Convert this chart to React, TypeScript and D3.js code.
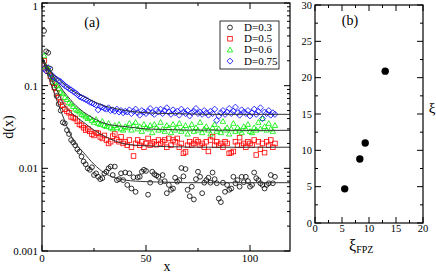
import React from 'react';
import * as d3 from 'd3';

// panel (a): d(x) for four D values, x = 1..112
const dBlack = [
  0.46, 0.26, 0.25, 0.16, 0.12, 0.095, 0.075, 0.06, 0.05, 0.036,
  0.035, 0.029, 0.026, 0.022, 0.0206, 0.019, 0.017, 0.0159, 0.0139, 0.0121,
  0.0112, 0.0100, 0.0096, 0.0103, 0.0083, 0.0087, 0.0079, 0.0074, 0.0076, 0.0087,
  0.0091, 0.0100, 0.0105, 0.0083, 0.0105, 0.0072, 0.0074, 0.0087, 0.0072, 0.0089,
  0.0063, 0.0087, 0.0057, 0.0078, 0.0052, 0.0078, 0.0079, 0.0091, 0.0096, 0.0093,
  0.0048, 0.0067, 0.0091, 0.0085, 0.0082, 0.0079, 0.0068, 0.0083, 0.0070, 0.0050,
  0.0063, 0.0055, 0.0057, 0.0077, 0.0069, 0.0072, 0.0101, 0.0080, 0.0098, 0.0055,
  0.0046, 0.0060, 0.0042, 0.0074, 0.0091, 0.0079, 0.0050, 0.0067, 0.0072, 0.0077,
  0.0067, 0.0089, 0.0074, 0.0066, 0.0043, 0.0039, 0.0067, 0.0052, 0.0063, 0.0055,
  0.0057, 0.0079, 0.0066, 0.0072, 0.0060, 0.0079, 0.0068, 0.0079, 0.0070, 0.0060,
  0.0063, 0.0089, 0.0076, 0.0072, 0.0066, 0.0063, 0.0057, 0.0063, 0.0066, 0.0083,
  0.0066, 0.0079,
];
const dRed = [
  0.20, 0.165, 0.15, 0.13, 0.11, 0.095, 0.082, 0.072, 0.063, 0.058,
  0.052, 0.049, 0.047, 0.042, 0.041, 0.040, 0.037, 0.034, 0.033, 0.031,
  0.029, 0.030, 0.028, 0.026, 0.025, 0.027, 0.0265, 0.024, 0.023, 0.025,
  0.022, 0.020, 0.021, 0.0245, 0.026, 0.022, 0.021, 0.024, 0.020, 0.021,
  0.019, 0.022, 0.018, 0.0141, 0.020, 0.022, 0.019, 0.021, 0.018, 0.020,
  0.023, 0.019, 0.020, 0.021, 0.0193, 0.022, 0.020, 0.021, 0.022, 0.018,
  0.023, 0.019, 0.022, 0.021, 0.023, 0.018, 0.020, 0.0152, 0.0158, 0.019,
  0.021, 0.019, 0.020, 0.022, 0.021, 0.019, 0.020, 0.018, 0.021, 0.016,
  0.022, 0.0242, 0.019, 0.021, 0.019, 0.020, 0.018, 0.021, 0.020, 0.0152,
  0.0155, 0.016, 0.021, 0.019, 0.0235, 0.019, 0.020, 0.018, 0.021, 0.020,
  0.019, 0.022, 0.0145, 0.021, 0.017, 0.020, 0.0155, 0.021, 0.019, 0.022,
  0.018, 0.020,
];
const dGreen = [
  0.23, 0.17, 0.16, 0.14, 0.125, 0.11, 0.10, 0.092, 0.083, 0.080,
  0.072, 0.068, 0.062, 0.060, 0.056, 0.052, 0.050, 0.048, 0.045, 0.044,
  0.042, 0.040, 0.041, 0.038, 0.036, 0.039, 0.035, 0.034, 0.037, 0.033,
  0.032, 0.035, 0.031, 0.030, 0.033, 0.031, 0.034, 0.030, 0.029, 0.032,
  0.031, 0.035, 0.029, 0.033, 0.036, 0.030, 0.032, 0.028, 0.034, 0.031,
  0.030, 0.033, 0.027, 0.034, 0.031, 0.029, 0.036, 0.030, 0.028, 0.033,
  0.031, 0.027, 0.034, 0.029, 0.031, 0.035, 0.028, 0.030, 0.033, 0.026,
  0.030, 0.034, 0.028, 0.031, 0.029, 0.036, 0.027, 0.030, 0.032, 0.029,
  0.026, 0.031, 0.034, 0.028, 0.030, 0.027, 0.037, 0.029, 0.031, 0.026,
  0.030, 0.035, 0.028, 0.031, 0.029, 0.027, 0.032, 0.030, 0.034, 0.028,
  0.027, 0.031, 0.029, 0.036, 0.030, 0.040, 0.032, 0.029, 0.035, 0.030,
  0.028, 0.033,
];
const dBlue = [
  0.16, 0.15, 0.165, 0.14, 0.13, 0.125, 0.12, 0.115, 0.112, 0.105,
  0.10, 0.096, 0.092, 0.089, 0.085, 0.082, 0.078, 0.074, 0.072, 0.070,
  0.068, 0.066, 0.063, 0.062, 0.060, 0.058, 0.051, 0.056, 0.055, 0.053,
  0.052, 0.054, 0.050, 0.051, 0.049, 0.052, 0.048, 0.050, 0.047, 0.049,
  0.048, 0.051, 0.046, 0.049, 0.052, 0.047, 0.044, 0.050, 0.048, 0.046,
  0.049, 0.053, 0.047, 0.045, 0.051, 0.048, 0.052, 0.046, 0.050, 0.054,
  0.048, 0.045, 0.051, 0.047, 0.049, 0.044, 0.052, 0.048, 0.046, 0.050,
  0.043, 0.047, 0.049, 0.053, 0.046, 0.048, 0.045, 0.050, 0.047, 0.044,
  0.049, 0.046, 0.052, 0.038, 0.043, 0.047, 0.050, 0.045, 0.048, 0.053,
  0.046, 0.049, 0.055, 0.047, 0.044, 0.051, 0.048, 0.046, 0.050, 0.043,
  0.047, 0.052, 0.045, 0.049, 0.054, 0.040, 0.048, 0.046, 0.050, 0.044,
  0.047, 0.045,
];

// fitted curves, sampled
const fitX = [0, 2, 4, 6, 8, 10, 12, 15, 20, 25, 30, 35, 40, 50, 60, 70, 80, 100, 120];
const fitBlack = [0.22, 0.155, 0.11, 0.08, 0.058, 0.043, 0.032, 0.022, 0.0155, 0.0112, 0.0088, 0.0077, 0.0072, 0.0069, 0.0068, 0.0067, 0.0067, 0.0067, 0.0067];
const fitRed = [0.22, 0.17, 0.13, 0.1, 0.08, 0.062, 0.053, 0.045, 0.036, 0.029, 0.0245, 0.0215, 0.0197, 0.0187, 0.0183, 0.0181, 0.018, 0.018, 0.018];
const fitGreen = [0.22, 0.18, 0.15, 0.125, 0.105, 0.088, 0.076, 0.062, 0.048, 0.040, 0.035, 0.033, 0.032, 0.030, 0.0295, 0.029, 0.029, 0.0288, 0.0288];
const fitBlue = [0.2, 0.17, 0.15, 0.133, 0.12, 0.108, 0.098, 0.086, 0.074, 0.064, 0.057, 0.053, 0.050, 0.047, 0.046, 0.0455, 0.045, 0.045, 0.045];

const legendLabels = ['D=0.3', 'D=0.5', 'D=0.6', 'D=0.75'];

// panel (b)
const xiFPZ = [5.5, 8.3, 9.3, 13];
const xi = [4.7, 8.8, 11, 20.9];

const serif = 'Liberation Serif, Times New Roman, serif';

function marker(kind: string, x: number, y: number, color: string, key: any) {
  if (kind === 'circle') return <circle key={key} cx={x} cy={y} r={2.4} fill="none" stroke={color} strokeWidth={0.8} />;
  if (kind === 'square') return <rect key={key} x={x - 2.3} y={y - 2.3} width={4.6} height={4.6} fill="none" stroke={color} strokeWidth={0.8} />;
  if (kind === 'triangle') return <path key={key} d={`M${x},${y - 2.8}L${x + 2.7},${y + 2}L${x - 2.7},${y + 2}Z`} fill="none" stroke={color} strokeWidth={0.8} />;
  return <path key={key} d={`M${x},${y - 3}L${x + 3},${y}L${x},${y + 3}L${x - 3},${y}Z`} fill="none" stroke={color} strokeWidth={0.8} />;
}

export default function App() {
  // panel a
  const ax = d3.scaleLinear().domain([0, 120]).range([42, 291.6]);
  const ay = d3.scaleLog().domain([0.001, 1]).range([251, 3]);
  const series = [
    { vals: dBlack, fit: fitBlack, kind: 'circle', color: '#000000' },
    { vals: dRed, fit: fitRed, kind: 'square', color: '#ff0000' },
    { vals: dGreen, fit: fitGreen, kind: 'triangle', color: '#00ee00' },
    { vals: dBlue, fit: fitBlue, kind: 'diamond', color: '#0000ff' },
  ];
  const line = d3.line<number>()
    .x((_, i) => ax(fitX[i]))
    .y(d => ay(d))
    .curve(d3.curveMonotoneX);

  const aLeft = 42, aRight = 290, aTop = 3, aBottom = 251;
  const logMinor: number[] = [];
  [0.001, 0.01, 0.1].forEach(dec => { for (let k = 2; k <= 9; k++) logMinor.push(dec * k); });

  // panel b
  const bx = d3.scaleLinear().domain([0, 20]).range([315, 423]);
  const by = d3.scaleLinear().domain([0, 30]).range([223, 5]);

  return (
    <svg width={436} height={273} style={{ position: 'absolute', left: 0, top: 0, background: '#fff' }} fontFamily={serif}>
      <defs>
        <clipPath id="clipA"><rect x={aLeft} y={aTop} width={aRight - aLeft} height={aBottom - aTop} /></clipPath>
      </defs>
      {/* panel a data */}
      <g clipPath="url(#clipA)">
        {series.map((s, si) => (
          <g key={si}>
            {s.vals.map((v, i) => marker(s.kind, ax(i + 1), ay(v), s.color, i))}
          </g>
        ))}
        {series.map((s, si) => (
          <path key={'f' + si} d={line(s.fit) || ''} fill="none" stroke="#333" strokeWidth={1} />
        ))}
      </g>
      {/* panel a frame and ticks */}
      <rect x={aLeft} y={aTop} width={aRight - aLeft} height={aBottom - aTop} fill="none" stroke="#000" strokeWidth={1.2} />
      {[0, 50, 100].map(t => (
        <g key={'xa' + t}>
          <line x1={ax(t)} x2={ax(t)} y1={aBottom} y2={aBottom - 6} stroke="#000" />
          <line x1={ax(t)} x2={ax(t)} y1={aTop} y2={aTop + 6} stroke="#000" />
          <text x={ax(t)} y={262} fontSize={11} textAnchor="middle">{t}</text>
        </g>
      ))}
      {[25, 75].map(t => (
        <g key={'xm' + t}>
          <line x1={ax(t)} x2={ax(t)} y1={aBottom} y2={aBottom - 3} stroke="#000" />
          <line x1={ax(t)} x2={ax(t)} y1={aTop} y2={aTop + 3} stroke="#000" />
        </g>
      ))}
      {[1, 0.1, 0.01, 0.001].map(t => (
        <g key={'ya' + t}>
          <line x1={aLeft} x2={aLeft + 6} y1={ay(t)} y2={ay(t)} stroke="#000" />
          <line x1={aRight} x2={aRight - 6} y1={ay(t)} y2={ay(t)} stroke="#000" />
          <text x={38} y={Math.max(ay(t) + 4, 10)} fontSize={11} textAnchor="end">{t}</text>
        </g>
      ))}
      {logMinor.map((t, i) => (
        <g key={'ym' + i}>
          <line x1={aLeft} x2={aLeft + 3} y1={ay(t)} y2={ay(t)} stroke="#000" />
          <line x1={aRight} x2={aRight - 3} y1={ay(t)} y2={ay(t)} stroke="#000" />
        </g>
      ))}
      <text x={92} y={27} fontSize={14} textAnchor="middle">(a)</text>
      <text x={167} y={271} fontSize={14} textAnchor="middle">x</text>
      <text transform="translate(13,127) rotate(-90)" fontSize={14} textAnchor="middle">d(x)</text>
      {/* legend */}
      <rect x={220} y={21} width={59} height={48} fill="#fff" stroke="#000" strokeWidth={0.8} />
      {series.map((s, i) => (
        <g key={'lg' + i}>
          {marker(s.kind, 230, 27.5 + i * 11.2, s.color, 'm')}
          <text x={244} y={31 + i * 11.2} fontSize={11}>{legendLabels[i]}</text>
        </g>
      ))}

      {/* panel b */}
      <rect x={315} y={5} width={108} height={218} fill="none" stroke="#000" strokeWidth={1.2} />
      {d3.range(0, 20.1, 2.5).map(t => {
        const major = t % 5 === 0;
        return (
          <g key={'bx' + t}>
            <line x1={bx(t)} x2={bx(t)} y1={223} y2={223 - (major ? 6 : 3)} stroke="#000" />
            <line x1={bx(t)} x2={bx(t)} y1={5} y2={5 + (major ? 6 : 3)} stroke="#000" />
            {major && <text x={bx(t)} y={232} fontSize={10.5} textAnchor="middle">{t}</text>}
          </g>
        );
      })}
      {d3.range(0, 30.1, 2.5).map(t => {
        const major = t % 5 === 0;
        return (
          <g key={'by' + t}>
            <line x1={315} x2={315 + (major ? 6 : 3)} y1={by(t)} y2={by(t)} stroke="#000" />
            <line x1={423} x2={423 - (major ? 6 : 3)} y1={by(t)} y2={by(t)} stroke="#000" />
            {major && <text x={312} y={by(t) + 3.5} fontSize={10.5} textAnchor="end">{t}</text>}
          </g>
        );
      })}
      {xiFPZ.map((v, i) => (
        <circle key={'b' + i} cx={bx(v)} cy={by(xi[i])} r={3.7} fill="#000" />
      ))}
      <text x={350} y={25} fontSize={14} textAnchor="middle">(b)</text>
      <text x={432} y={113} fontSize={15} textAnchor="middle">ξ</text>
      <text x={349} y={251} fontSize={16}>ξ<tspan fontSize={10} dy={2}>FPZ</tspan></text>
    </svg>
  );
}
